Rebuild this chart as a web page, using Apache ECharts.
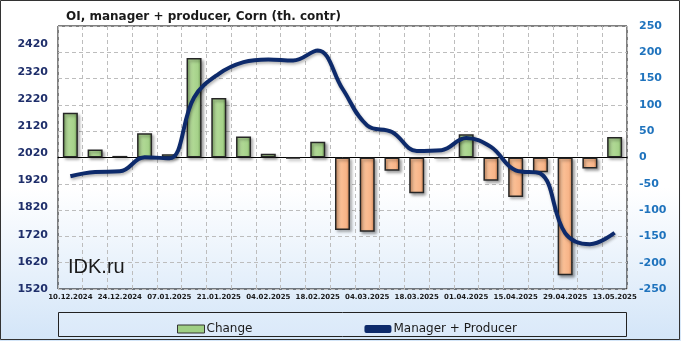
<!DOCTYPE html>
<html><head><meta charset="utf-8">
<script src="https://cdn.jsdelivr.net/npm/echarts@6/dist/echarts.min.js"></script>
<style>html,body{margin:0;padding:0;background:#fff}#c{width:681px;height:341px}</style>
</head><body><div id="c"></div>
<script>
const dates = ['10.12.2024','17.12.2024','24.12.2024','31.12.2024','07.01.2025','14.01.2025','21.01.2025','28.01.2025','04.02.2025','11.02.2025','18.02.2025','25.02.2025','04.03.2025','11.03.2025','18.03.2025','25.03.2025','01.04.2025','08.04.2025','15.04.2025','22.04.2025','29.04.2025','06.05.2025','13.05.2025'];
const change = [85,15,3,46,6,189,113,40,7,-2,30,-138,-141,-25,-68,-1,44,-44,-75,-28,-224,-21,39];
const manager = [1935,1951,1953,2005,2001,2225,2312,2355,2365,2361,2398,2257,2122,2098,2028,2031,2076,2043,1957,1945,1726,1685,1727];
const titleText = 'OI, manager + producer, Corn (th. contr)';

const greenGrad = new echarts.graphic.LinearGradient(0,0,1,0,[{offset:0,color:'#7fae62'},{offset:0.25,color:'#b5dc9a'},{offset:0.75,color:'#a6d28a'},{offset:1,color:'#6f9a55'}]);
const orangeGrad = new echarts.graphic.LinearGradient(0,0,1,0,[{offset:0,color:'#d98e5c'},{offset:0.25,color:'#fcc39a'},{offset:0.75,color:'#f7b488'},{offset:1,color:'#c97f4f'}]);

const chart = echarts.init(document.getElementById('c'), null, {renderer:'canvas'});
chart.setOption({
  animation:false,
  backgroundColor: new echarts.graphic.LinearGradient(0,0,0,1,[{offset:0,color:'#ffffff'},{offset:0.55,color:'#ffffff'},{offset:1,color:'#d3e5f8'}]),
  title:{text:titleText,left:61,top:6,textStyle:{fontFamily:'DejaVu Sans',fontWeight:'bold',fontSize:12,color:'#1a1a1a'}},
  graphic:[
    {type:'rect',shape:{x:0.5,y:0.5,width:679,height:339},style:{fill:'none',stroke:'#333',lineWidth:1},z:-1},
    {type:'rect',shape:{x:58.5,y:312.5,width:568,height:24},style:{fill:'rgba(255,255,255,0.15)',stroke:'#222',lineWidth:1},z:-1},
    {type:'text',left:68,top:257,style:{text:'IDK.ru',font:'20px "Liberation Sans", Arial',fill:'#1a1a1a'},z:10}
  ],
  legend:{left:172,top:318,itemGap:112,itemWidth:27,itemHeight:8,
    textStyle:{fontFamily:'DejaVu Sans',fontSize:12,color:'#1a1a1a',padding:[0,0,0,-3]},
    data:[{name:'Change',icon:'rect',itemStyle:{color:'#9fcf84',borderColor:'#333',borderWidth:1}},
          {name:'Manager + Producer',icon:'roundRect',itemStyle:{color:'#0d2a6b'},itemHeight:4}]},
  grid:{left:58,right:54,top:26,bottom:52,show:true,borderColor:'#000',borderWidth:1,backgroundColor:'transparent'},
  xAxis:{type:'category',data:dates,boundaryGap:true,
    axisLine:{lineStyle:{color:'#000'}},axisTick:{show:false},
    axisLabel:{interval:1,fontFamily:'DejaVu Sans',fontWeight:'bold',fontSize:7,color:'#1a1a1a',margin:5},
    splitLine:{show:true,interval:0,lineStyle:{type:[4,3],color:'#bdbdbd'}}},
  yAxis:[
    {type:'value',position:'left',min:1520,max:2488,interval:100,
     axisLine:{show:false},axisTick:{show:false},splitLine:{show:false},
     axisLabel:{showMaxLabel:false,formatter:v=>String(v),fontFamily:'DejaVu Sans',fontWeight:'bold',fontSize:11,color:'#1f2f6b',margin:10}},
    {type:'value',position:'right',min:-250,max:250,interval:50,
     axisLine:{show:false},axisTick:{show:false},
     splitLine:{show:true,lineStyle:{type:[4,3],color:'#bdbdbd'}},
     axisLabel:{formatter:v=>String(v),fontFamily:'DejaVu Sans',fontWeight:'bold',fontSize:11,color:'#1f73bd',margin:12}}
  ],
  series:[
    {name:'Change',type:'bar',yAxisIndex:1,barWidth:15,z:2,
     data:change.map(v=>({value:v,itemStyle:{color:v>=0?greenGrad:orangeGrad}})),
     itemStyle:{borderColor:'#262626',borderWidth:1.5,shadowBlur:3,shadowOffsetX:2,shadowOffsetY:2,shadowColor:'rgba(0,0,0,0.35)'}},
    {name:'Manager + Producer',type:'line',yAxisIndex:0,data:manager,smooth:0.4,showSymbol:false,z:3,
     lineStyle:{color:'#0d2a6b',width:4,shadowBlur:3,shadowOffsetX:1,shadowOffsetY:2,shadowColor:'rgba(0,0,0,0.3)'},
     itemStyle:{color:'#0d2a6b'}}
  ]
});
</script></body></html>
